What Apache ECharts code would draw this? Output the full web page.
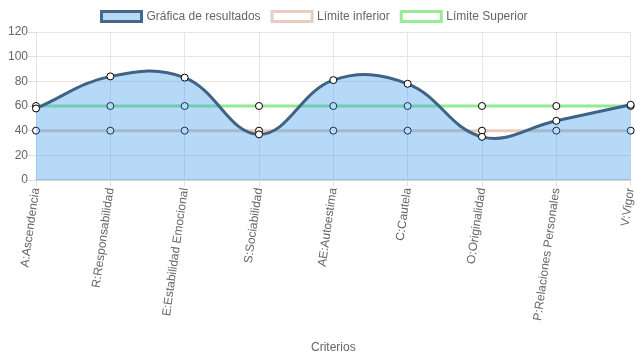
<!DOCTYPE html>
<html><head><meta charset="utf-8">
<script src="https://cdn.jsdelivr.net/npm/echarts@6/dist/echarts.min.js"></script>
<style>html,body{margin:0;padding:0;background:#fff}#c{width:637px;height:359px}</style>
</head><body><div id="c"></div>
<script>
const categories = ["A:Ascendencia","R:Responsabilidad","E:Estabilidad Emocional","S:Sociabilidad","AE:Autoestima","C:Cautela","O:Originalidad","P:Relaciones Personales","V:Vigor"];
const resultados = [58, 84, 83, 37, 81, 78, 35, 48, 61];
const limiteInferior = [40, 40, 40, 40, 40, 40, 40, 40, 40];
const limiteSuperior = [60, 60, 60, 60, 60, 60, 60, 60, 60];
const yTicks = {min: 0, max: 120, interval: 20};

const font = 'Liberation Sans, Arial, sans-serif';
const chart = echarts.init(document.getElementById('c'), null, {renderer: 'canvas'});
const pointStyle = {color: '#fff', borderColor: '#000', borderWidth: 1};
const TENSION = 0.4;

// Cardinal-style spline (tension 0.4) through points mapped by the axes
function splinePath(pts) {
  const n = pts.length;
  const cps = pts.map((cur, i) => {
    const prev = pts[Math.max(0, i - 1)], next = pts[Math.min(n - 1, i + 1)];
    const d01 = Math.hypot(cur[0] - prev[0], cur[1] - prev[1]);
    const d12 = Math.hypot(next[0] - cur[0], next[1] - cur[1]);
    let s01 = d01 / (d01 + d12), s12 = d12 / (d01 + d12);
    if (!isFinite(s01)) s01 = 0; if (!isFinite(s12)) s12 = 0;
    const fa = TENSION * s01, fb = TENSION * s12;
    return {
      p: [cur[0] - fa * (next[0] - prev[0]), cur[1] - fa * (next[1] - prev[1])],
      n: [cur[0] + fb * (next[0] - prev[0]), cur[1] + fb * (next[1] - prev[1])]
    };
  });
  let d = 'M' + pts[0][0] + ' ' + pts[0][1];
  for (let i = 1; i < n; i++) {
    const a = cps[i - 1].n, b = cps[i].p;
    d += ' C' + a[0] + ' ' + a[1] + ' ' + b[0] + ' ' + b[1] + ' ' + pts[i][0] + ' ' + pts[i][1];
  }
  return d;
}

chart.setOption({
  animation: false,
  legend: {
    top: 5, left: 95, icon: 'rect', itemWidth: 40, itemHeight: 10, itemGap: 10,
    textStyle: {color: '#666', fontSize: 12, fontFamily: font},
    data: [
      {name: 'Gráfica de resultados', itemStyle: {color: '#b7d9f5', borderColor: '#44678a', borderWidth: 3}},
      {name: 'Límite inferior', itemStyle: {color: '#fff', borderColor: '#e8cdbe', borderWidth: 3}},
      {name: 'Límite Superior', itemStyle: {color: '#fff', borderColor: '#98eb98', borderWidth: 3}}
    ]
  },
  grid: {left: 36, right: 4, top: 32, bottom: 179, containLabel: false},
  xAxis: {
    type: 'category', data: categories, boundaryGap: false,
    name: 'Criterios', nameLocation: 'middle', nameGap: 162,
    nameTextStyle: {color: '#666', fontSize: 12, fontFamily: font},
    axisLine: {lineStyle: {color: '#d6d6d6', width: 2}},
    axisTick: {show: true, length: 6, lineStyle: {color: '#e0e0e0'}},
    axisLabel: {rotate: 82, color: '#666', fontSize: 12, fontFamily: font, margin: 8, interval: 0},
    splitLine: {show: true, lineStyle: {color: '#e6e6e6'}}
  },
  yAxis: {
    type: 'value', min: yTicks.min, max: yTicks.max, interval: yTicks.interval,
    axisLine: {show: true, lineStyle: {color: '#e0e0e0'}},
    axisTick: {show: true, length: 8, lineStyle: {color: '#e0e0e0'}},
    axisLabel: {color: '#666', fontSize: 12, fontFamily: font, margin: 8},
    splitLine: {show: true, lineStyle: {color: '#e6e6e6'}}
  },
  series: [
    {name: 'Límite inferior', type: 'line', data: limiteInferior, z: 2,
     symbol: 'circle', symbolSize: 7, showSymbol: true,
     lineStyle: {color: '#e6cbbd', width: 3}, itemStyle: pointStyle},
    {name: 'Límite Superior', type: 'line', data: limiteSuperior, z: 2,
     symbol: 'circle', symbolSize: 7, showSymbol: true,
     lineStyle: {color: '#92ea92', width: 3}, itemStyle: pointStyle},
    {name: 'Gráfica de resultados', type: 'custom', z: 5, data: [0],
     renderItem: function (params, api) {
       const pts = resultados.map((v, i) => api.coord([i, v]));
       const base = api.coord([0, yTicks.min])[1];
       const line = splinePath(pts);
       const area = line + ' L' + pts[pts.length - 1][0] + ' ' + base + ' L' + pts[0][0] + ' ' + base + ' Z';
       return {type: 'group', children: [
         {type: 'path', shape: {pathData: area}, style: {fill: 'rgba(54,150,235,0.36)', stroke: null}},
         {type: 'path', shape: {pathData: line}, style: {fill: null, stroke: '#3f6384', lineWidth: 3}}
       ]};
     }},
    {name: 'Gráfica de resultados', type: 'line', data: resultados, z: 6,
     symbol: 'circle', symbolSize: 7, showSymbol: true,
     lineStyle: {width: 0, opacity: 0},
     itemStyle: pointStyle}
  ]
});
</script></body></html>
